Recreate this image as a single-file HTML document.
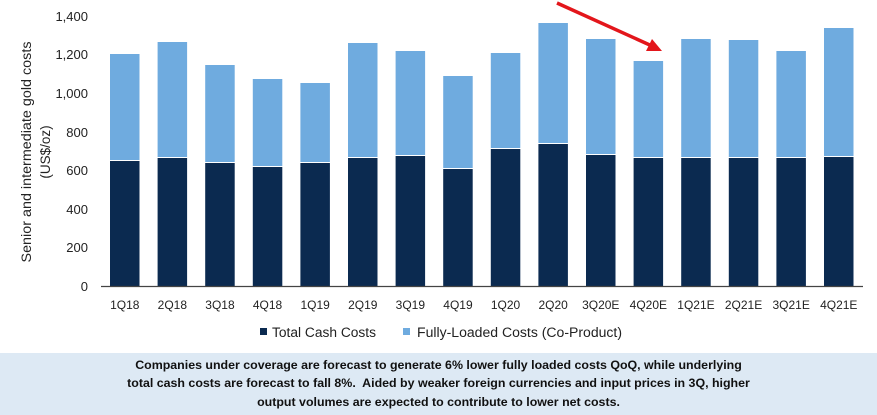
<!DOCTYPE html>
<html><head><style>
body{margin:0;background:#fff;width:877px;height:415px;overflow:hidden;font-family:"Liberation Sans",sans-serif;}
.box{position:absolute;left:0;top:353px;width:877px;height:62px;background:#dde9f4;text-align:center;font-weight:bold;font-size:12.4px;line-height:18.3px;color:#111;padding-top:3px;box-sizing:border-box;white-space:nowrap;}
</style></head><body>
<svg width="877" height="353" style="position:absolute;left:0;top:0" font-family="Liberation Sans, sans-serif">
<g font-size="13" fill="#222" text-anchor="end">
<text x="88" y="291">0</text><text x="88" y="252">200</text><text x="88" y="214">400</text><text x="88" y="175">600</text><text x="88" y="137">800</text><text x="88" y="98">1,000</text><text x="88" y="59">1,200</text><text x="88" y="21">1,400</text>
</g>
<text transform="translate(31,152) rotate(-90)" font-size="13.5" fill="#222" text-anchor="middle" textLength="221" lengthAdjust="spacingAndGlyphs">Senior and intermediate gold costs</text>
<text transform="translate(50,152) rotate(-90)" font-size="13.5" fill="#222" text-anchor="middle">(US$/oz)</text>
<g id="bars"></g>
<line x1="101" y1="286.5" x2="863" y2="286.5" stroke="#444" stroke-width="1.2"/>
<g font-size="12" fill="#222" text-anchor="middle" id="labels"></g>
<rect x="260" y="328" width="7" height="7" fill="#0b2a50"/>
<text x="272" y="337" font-size="13.5" fill="#222" textLength="104" lengthAdjust="spacingAndGlyphs">Total Cash Costs</text>
<rect x="403" y="328" width="7" height="7" fill="#6fabdf"/>
<text x="417" y="337" font-size="13.5" fill="#222" textLength="205" lengthAdjust="spacingAndGlyphs">Fully-Loaded Costs (Co-Product)</text>
<line x1="557" y1="3" x2="652" y2="46" stroke="#e3161b" stroke-width="3.5"/>
<polygon points="662,51 646,51 652,39" fill="#e3161b"/>
</svg>
<script>
var L=["1Q18","2Q18","3Q18","4Q18","1Q19","2Q19","3Q19","4Q19","1Q20","2Q20","3Q20E","4Q20E","1Q21E","2Q21E","3Q21E","4Q21E"];
var T=[54,42,65,79,83,43,51,76,53,23,39,61,39,40,51,28];
var C=[161,158,163,167,163,158,156,169,149,144,155,158,158,158,158,157];
var s="",l="";
for(var i=0;i<16;i++){var x=110+i*47.6;
s+='<rect x="'+x+'" y="'+T[i]+'" width="29.5" height="'+(C[i]-T[i]-1)+'" fill="#6fabdf"/>';
s+='<rect x="'+x+'" y="'+C[i]+'" width="29.5" height="'+(286-C[i])+'" fill="#0b2a50"/>';
l+='<text x="'+(x+14.75)+'" y="309">'+L[i]+'</text>';}
document.getElementById("bars").innerHTML=s;document.getElementById("labels").innerHTML=l;
</script>
<div class="box">Companies under coverage are forecast to generate 6% lower fully loaded costs QoQ, while underlying<br>total cash costs are forecast to fall 8%.&nbsp; Aided by weaker foreign currencies and input prices in 3Q, higher<br>output volumes are expected to contribute to lower net costs.</div>
</body></html>
